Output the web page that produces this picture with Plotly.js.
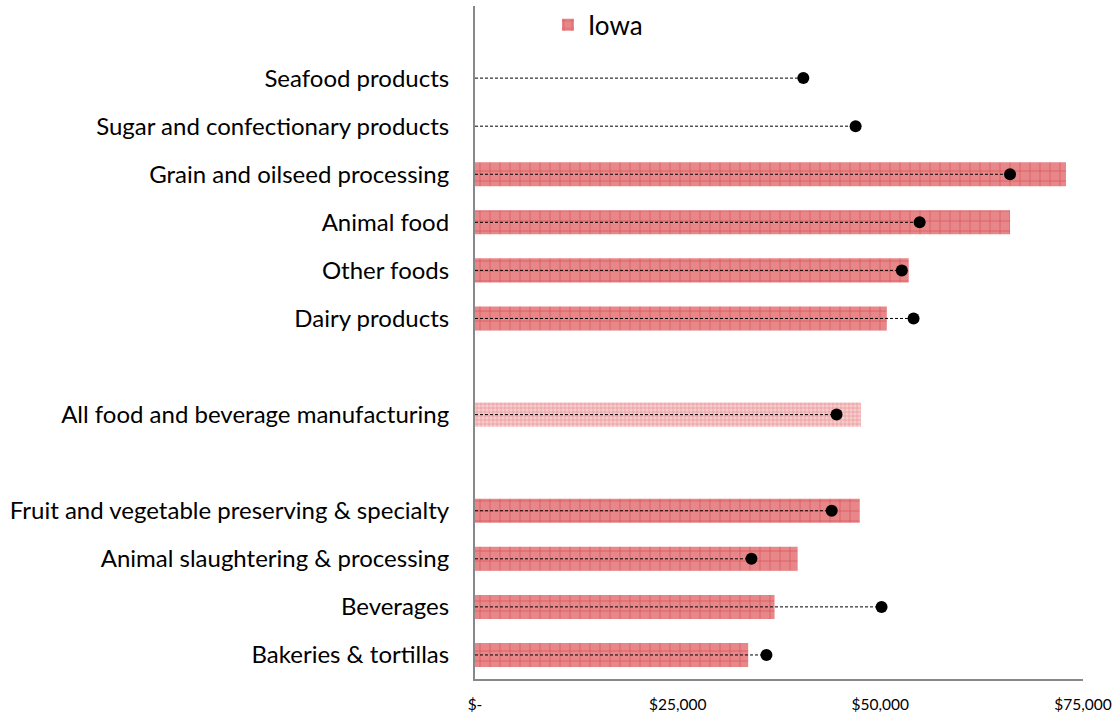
<!DOCTYPE html>
<html>
<head>
<meta charset="utf-8">
<script src="https://cdn.plot.ly/plotly-3.0.1.min.js"></script>
<style>html,body{margin:0;padding:0;background:#fff;}#chart{width:1116px;height:717px;}</style>
</head>
<body>
<div id="chart"></div>
<script>
// Industries (top to bottom as shown)
const categories = [
  'Seafood products',
  'Sugar and confectionary products',
  'Grain and oilseed processing',
  'Animal food',
  'Other foods',
  'Dairy products',
  'All food and beverage manufacturing',
  'Fruit and vegetable preserving & specialty',
  'Animal slaughtering & processing',
  'Beverages',
  'Bakeries & tortillas'
];
// Iowa average wage (bars)
const iowaValues = [null, null, 72900, 66000, 53500, 50800, 47600, 47450, 39800, 36950, 33700];
// Comparison average wage (dots)
const dotValues = [40500, 46950, 66000, 54850, 52650, 54100, 44600, 44000, 34100, 50150, 35950];
const seriesName = 'Iowa';
const totalCategory = 'All food and beverage manufacturing';
const xTickVals = [0, 25000, 50000, 75000];
const xTickText = ['$-', '$25,000', '$50,000', '$75,000'];

// category order bottom -> top, with blank spacer slots
const order = [
  'Bakeries & tortillas', 'Beverages', 'Animal slaughtering & processing',
  'Fruit and vegetable preserving & specialty', ' ',
  'All food and beverage manufacturing', '  ',
  'Dairy products', 'Other foods', 'Animal food', 'Grain and oilseed processing',
  'Sugar and confectionary products', 'Seafood products', '   '
];

const mainY = [], mainX = [], totY = [], totX = [];
categories.forEach((c, i) => {
  if (iowaValues[i] == null) return;
  if (c === totalCategory) { totY.push(c); totX.push(iowaValues[i]); }
  else { mainY.push(c); mainX.push(iowaValues[i]); }
});
const lineX = [], lineY = [];
categories.forEach((c, i) => { lineX.push(0, dotValues[i], null); lineY.push(c, c, null); });

const traces = [
  {
    type: 'bar', orientation: 'h', name: seriesName, x: mainX, y: mainY, width: 0.5,
    marker: { color: '#E7878A', line: { width: 0 },
      pattern: { shape: '+', fgcolor: '#CF2027', bgcolor: '#E7878A', size: 10, solidity: 0.14, fillmode: 'overlay' } },
    hoverinfo: 'x+y'
  },
  {
    type: 'bar', orientation: 'h', name: seriesName, x: totX, y: totY, width: 0.5, showlegend: false,
    marker: { color: '#F6CDCE', line: { width: 0 },
      pattern: { shape: '+', fgcolor: '#E4686C', bgcolor: '#F6CDCE', size: 4, solidity: 0.35, fillmode: 'overlay' } },
    hoverinfo: 'x+y'
  },
  {
    type: 'scatter', mode: 'lines', x: lineX, y: lineY, showlegend: false,
    line: { color: '#000', width: 1, dash: '3px,2px' }, hoverinfo: 'skip', connectgaps: false
  },
  {
    type: 'scatter', mode: 'markers', x: dotValues, y: categories, showlegend: false,
    marker: { color: '#000', size: 12 }
  }
];

const layout = {
  width: 1116, height: 717,
  margin: { l: 475, r: 33, t: 6, b: 38, autoexpand: false },
  paper_bgcolor: '#fff', plot_bgcolor: '#fff',
  font: { family: 'Lato, "Open Sans", sans-serif', color: '#000' },
  barmode: 'overlay',
  showlegend: true,
  legend: { x: 0.12, y: 0.972, xanchor: 'left', yanchor: 'middle', font: { size: 26 },
    bgcolor: 'rgba(0,0,0,0)', itemwidth: 30 },
  xaxis: {
    range: [0, 75000], tickvals: xTickVals, ticktext: xTickText,
    showgrid: false, zeroline: false, showline: true, linecolor: '#888', linewidth: 2,
    ticks: '', tickfont: { size: 15.5 }, ticklabelstandoff: 10, fixedrange: true
  },
  yaxis: {
    type: 'category', categoryorder: 'array', categoryarray: order, range: [-0.5, 13.5],
    showgrid: false, zeroline: false, showline: true, linecolor: '#888', linewidth: 2,
    ticks: '', tickfont: { size: 24 }, ticklabelstandoff: 19, fixedrange: true
  }
};

Plotly.newPlot('chart', traces, layout, { displayModeBar: false, staticPlot: true });
</script>
</body>
</html>
